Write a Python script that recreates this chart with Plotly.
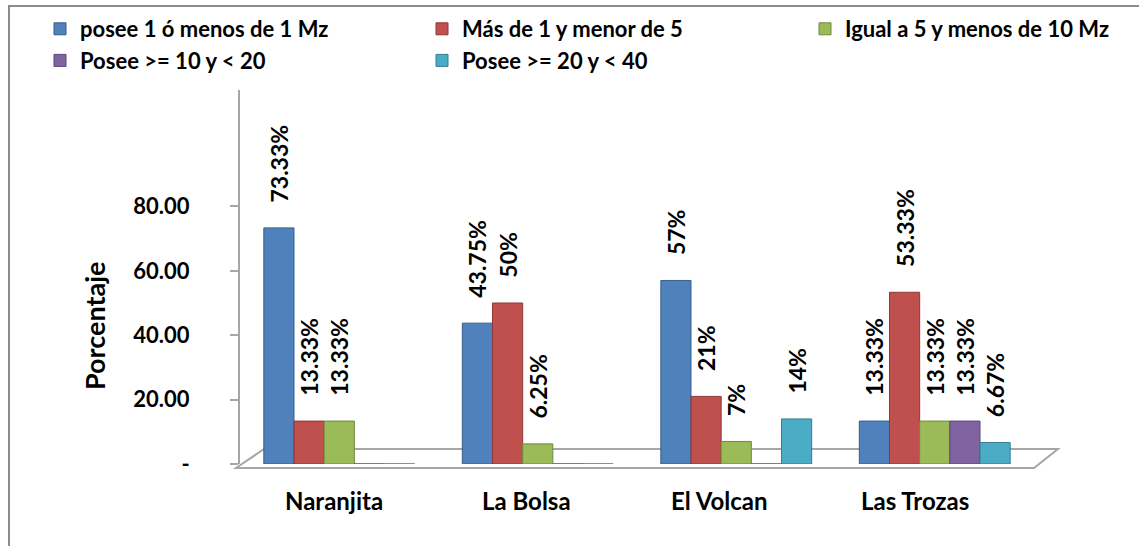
import plotly.graph_objects as go

categories = ["Naranjita", "La Bolsa", "El Volcan", "Las Trozas"]
series_names = ["posee 1 ó menos de 1 Mz", "Más de 1 y menor de 5",
                "Igual a 5 y menos de 10 Mz", "Posee >= 10 y < 20", "Posee >= 20 y < 40"]
s1 = [73.33, 43.75, 57, 13.33]
s2 = [13.33, 50, 21, 53.33]
s3 = [13.33, 6.25, 7, 13.33]
s4 = [0, 0, 0, 13.33]
s5 = [0, 0, 14, 6.67]
labels1 = ["73.33%", "43.75%", "57%", "13.33%"]
labels2 = ["13.33%", "50%", "21%", "53.33%"]
labels3 = ["13.33%", "6.25%", "7%", "13.33%"]
labels4 = ["", "", "", "13.33%"]
labels5 = ["", "", "14%", "6.67%"]
y_ticks = [0, 20, 40, 60, 80]
y_ticktext = ["-", "20.00", "40.00", "60.00", "80.00"]
y_title = "Porcentaje"

colors = ["#4F81BD", "#C0504D", "#9BBB59", "#8064A2", "#4BACC6"]
edge = ["#385D8A", "#8C3836", "#71893F", "#5C4776", "#357D91"]
legend_ids = ["legend", "legend2", "legend3", "legend", "legend2"]
cat_label_shift = [-5, -11, -17, -20]

W, H = 1139, 546
L, R, T, B = 240, 105, 90, 82
FONT = "Lato"
PAD = "\u00a0\u00a0\u00a0\u00a0"

fig = go.Figure()
for i, (name, vals, txt, c, e) in enumerate(zip(series_names, [s1, s2, s3, s4, s5],
                                 [labels1, labels2, labels3, labels4, labels5], colors, edge)):
    fig.add_trace(go.Bar(
        x=categories, y=vals, name=name, text=[PAD + t if t else "" for t in txt],
        textposition="outside", textangle=-90, constraintext="none",
        textfont=dict(family=FONT, size=23, color="black", weight="bold"),
        marker=dict(color=c, line=dict(color=e, width=1)),
        cliponaxis=False, legend=legend_ids[i], legendgroup=f"g{i}",
    ))

pw = W - L - R
ph = H - T - B

def px(x):
    return (x - L) / pw

def py(y):
    return (H - B - y) / ph

shapes = [
    dict(type="rect", xref="paper", yref="paper", x0=px(9), x1=px(W + 5), y0=py(H + 5), y1=py(6),
         line=dict(color="#8C8C8C", width=2), layer="below"),
    dict(type="path", xref="paper", yref="paper",
         path=f"M {px(236)} {py(468)} L {px(1034)} {py(468)} L {px(1058)} {py(449)} L {px(264)} {py(449)} Z",
         line=dict(color="#A6A6A6", width=2), fillcolor="white", layer="below"),
]

annotations = [
    dict(x=c, y=0, xref="x", yref="y", text=c, showarrow=False, yanchor="top",
         yshift=-20, xshift=s, font=dict(family=FONT, size=24, weight="bold", color="black"))
    for c, s in zip(categories, cat_label_shift)
]
annotations.append(dict(x=px(94), y=py(326), xref="paper", yref="paper", text=y_title,
                        showarrow=False, textangle=-90, xanchor="center", yanchor="middle",
                        font=dict(family=FONT, size=27, weight="bold", color="black")))

def leg(xpx):
    return dict(orientation="v", xref="container", yref="container", x=xpx / W, y=1 - 8 / H,
                xanchor="left", yanchor="top", font=dict(family=FONT, size=22, weight="bold"),
                traceorder="grouped", tracegroupgap=0, itemwidth=30, bgcolor="rgba(0,0,0,0)")

fig.update_layout(
    width=W, height=H,
    margin=dict(l=L, r=R, t=T, b=B, autoexpand=False),
    paper_bgcolor="white", plot_bgcolor="rgba(0,0,0,0)",
    barmode="group", bargap=0.24, bargroupgap=0,
    font=dict(family=FONT, color="black"),
    showlegend=True,
    legend=leg(40), legend2=leg(422), legend3=leg(805),
    shapes=shapes, annotations=annotations,
)
fig.update_yaxes(range=[0, ph / 3.22], tickvals=y_ticks, ticktext=y_ticktext,
                 showgrid=False, zeroline=False, showline=True, linecolor="#A6A6A6", linewidth=2,
                 ticks="outside", ticklen=8, tickcolor="#A6A6A6", tickwidth=2,
                 ticklabelstandoff=36,
                 tickfont=dict(family=FONT, size=22, weight="bold"))
fig.update_xaxes(showgrid=False, showline=False, ticks="", showticklabels=False)

fig.write_html("out.html", config={"displayModeBar": False},
               post_script="document.body.style.margin='0';document.body.style.overflow='hidden';")
